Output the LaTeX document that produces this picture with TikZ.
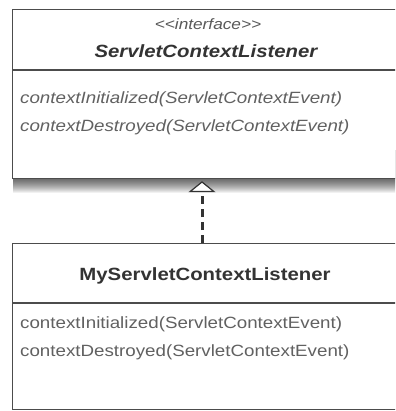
\documentclass[tikz,border=0pt]{standalone}
\usepackage{fontspec}
\setmainfont{Liberation Sans}[FakeStretch=1.15]
\usetikzlibrary{arrows.meta, positioning}
\newcommand{\msize}{\fontsize{16.3}{19}\selectfont}
\newcommand{\tsize}{\fontsize{17.7}{21}\selectfont}

\begin{document}
\begin{tikzpicture}[x=1pt, y=-1pt,
    classbox/.style={draw=black!70, line width=1.2pt, fill=white, anchor=north west, minimum width=400pt, inner sep=0pt},
    divider/.style={draw=black!70, line width=1.2pt},
    member/.style={anchor=west, inner sep=0pt, text=black!62, font=\msize},
    title/.style={inner sep=0pt, text=black!80, font=\tsize\bfseries},
    realize/.style={line width=3pt, draw=black!80, dash pattern=on 8pt off 5pt, shorten >=2pt,
        -{Triangle[fill=white, length=11pt, width=27pt, line width=1.2pt]}}]
    \useasboundingbox (0,0) rectangle (395,411);
    \fill[white] (0,0) rectangle (395,411);
    \clip (0,0) rectangle (395,411);
    \foreach \d in {1,...,14}
        \fill[black, opacity=0.055] (13,150) rectangle (420,179+\d);
    \node[classbox, minimum height=169pt] (iface) at (12,9) {};
    \draw[divider] (iface.west |- 0,70) -- (iface.east |- 0,70);
    \node[inner sep=0pt, text=black!65, font=\fontsize{15}{18}\itshape\selectfont] (stereo) at (208,24) {<\kern0pt<interface>\kern0pt>};
    \node[title, font=\tsize\bfseries\itshape] (ifacename) at (206,51) {ServletContextListener};
    \node[member, font=\msize\itshape] (ifaceinit) at (20,99) {contextInitialized(ServletContextEvent)};
    \node[member, font=\msize\itshape] (ifacedest) at (20,127) {contextDestroyed(ServletContextEvent)};
    \node[classbox, minimum height=166pt] (impl) at (12,243) {};
    \draw[divider] (impl.west |- 0,303) -- (impl.east |- 0,303);
    \node[title] (implname) at (205,276) {MyServletContextListener};
    \node[member] (implinit) at (20,324) {contextInitialized(ServletContextEvent)};
    \node[member] (impldest) at (20,352) {contextDestroyed(ServletContextEvent)};
    \coordinate (stem) at (202,0);
    \draw[realize] (stem |- impl.north) -- (stem |- iface.south);
\end{tikzpicture}
\end{document}
